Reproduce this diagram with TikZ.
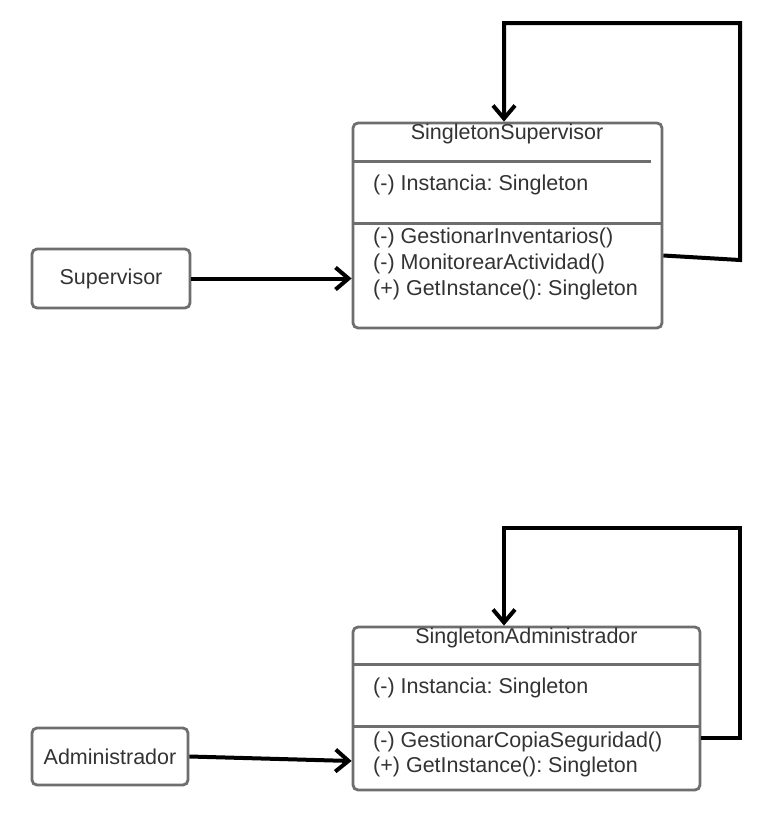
\documentclass[tikz,border=0pt]{standalone}
\usepackage{fontspec}
\setmainfont{Liberation Sans}
\usetikzlibrary{arrows.meta}
\definecolor{boxgray}{HTML}{6E6E6E}
\definecolor{txtgray}{HTML}{333333}
\frenchspacing
\begin{document}
\begin{tikzpicture}[x=1pt,y=-1pt,
  classbox/.style={draw=boxgray, line width=2.8pt, rounded corners=5pt, fill=white, inner sep=0pt},
  actorbox/.style={draw=boxgray, line width=2.8pt, rounded corners=5pt, fill=white, inner sep=0pt, text=txtgray, font=\fontsize{21.5}{25}\selectfont},
  sepline/.style={draw=boxgray, line width=2.8pt},
  member/.style={anchor=west, inner sep=0pt, text=txtgray, font=\fontsize{21.5}{25}\selectfont},
  title/.style={inner sep=0pt, text=txtgray, font=\fontsize{21.5}{25}\selectfont},
  conn/.style={draw=black, line width=4pt, -{Straight Barb[length=13pt,width=22pt,line width=4pt]}}
]
\useasboundingbox (0,0) rectangle (764,823);

% ---------- top: SingletonSupervisor ----------
\node[classbox, minimum width=309pt, minimum height=205pt] (ss) at (507.5,225.5) {};
\draw[sepline] ([yshift=-40pt]ss.north west) -- ([yshift=-40pt,xshift=-12pt]ss.north east);
\draw[sepline] ([yshift=-102pt]ss.north west) -- ([yshift=-102pt]ss.north east);
\node[title] (sst) at (507,134) {SingletonSupervisor};
\node[member] (ssa) at (373,185) {(-) Instancia: Singleton};
\node[member] (ssm1) at (373,238) {(-) GestionarInventarios()};
\node[member] (ssm2) at (373,264) {(-) MonitorearActividad()};
\node[member] (ssm3) at (373,290) {(+) GetInstance(): Singleton};

\node[actorbox, minimum width=158pt, minimum height=59pt] (sup) at (111,278.5) {Supervisor};
\draw[conn] (sup.east) -- (sup.east -| ss.west);

\coordinate (sl1) at (740,260);
\coordinate (sl2) at (740,23);
\coordinate (sl3) at (504,23);
\draw[conn] ([yshift=-30pt]ss.east) -- (sl1) -- (sl2) -- (sl3) -- (sl3 |- ss.north);

% ---------- bottom: SingletonAdministrador ----------
\node[classbox, minimum width=347pt, minimum height=163pt] (sa) at (526.5,708.5) {};
\draw[sepline] ([yshift=-39pt]sa.north west) -- ([yshift=-39pt]sa.north east);
\draw[sepline] ([yshift=-101pt]sa.north west) -- ([yshift=-101pt]sa.north east);
\node[title] (sat) at (526.5,638) {SingletonAdministrador};
\node[member] (saa) at (373,688) {(-) Instancia: Singleton};
\node[member] (sam1) at (373,742) {(-) GestionarCopiaSeguridad()};
\node[member] (sam2) at (373,767) {(+) GetInstance(): Singleton};

\node[actorbox, minimum width=156pt, minimum height=57pt] (adm) at (110,756.5) {Administrador};
\draw[conn] (adm.east) -- ([yshift=-4.5pt]adm.east -| sa.west);

\coordinate (al1) at (740,738);
\coordinate (al2) at (740,528);
\coordinate (al3) at (504,528);
\draw[conn] ([yshift=-29.5pt]sa.east) -- (al1) -- (al2) -- (al3) -- (al3 |- sa.north);
\end{tikzpicture}
\end{document}
